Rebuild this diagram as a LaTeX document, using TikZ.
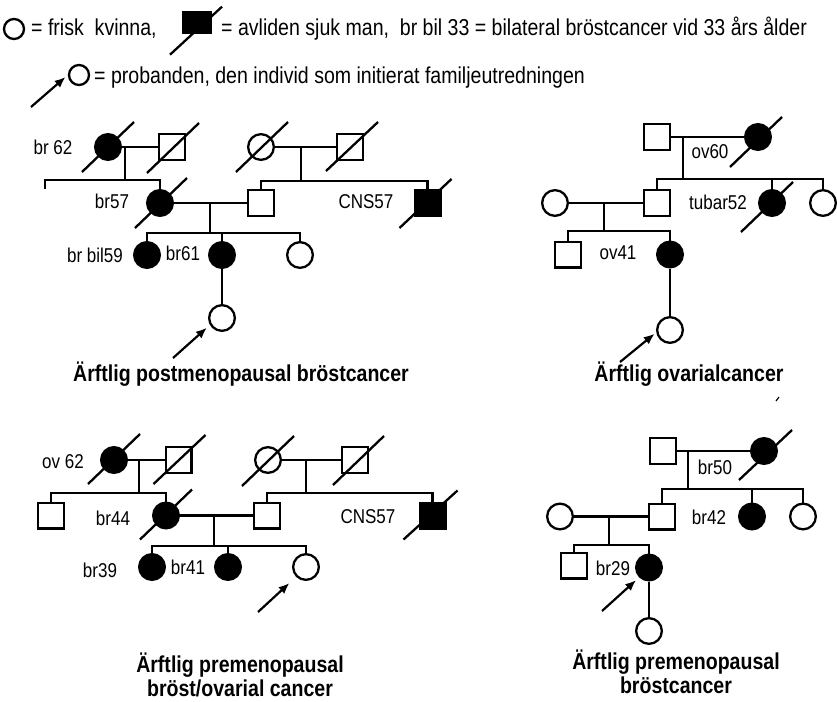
\documentclass[tikz,border=0pt]{standalone}
\usepackage{fontspec}
\setmainfont{Liberation Sans}[FakeStretch=0.85]
\usetikzlibrary{arrows.meta}
\tikzset{
  sym/.style={draw, line width=2.3pt, minimum size=25.7pt, inner sep=0pt},
  female/.style={sym, circle},
  male/.style={sym, rectangle},
  affected/.style={fill=black},
  slash/.style={line width=2.3pt},
  tie/.style={line width=2.3pt},
  arrow/.style={-{Latex[length=11pt,width=9pt]}, line width=2.2pt},
  lbl/.style={font=\fontsize{20}{24}\selectfont, inner sep=0pt},
  legendtext/.style={font=\fontsize{23}{28}\selectfont, inner sep=0pt, anchor=base west},
  ttl/.style={font=\fontsize{23}{23.3}\selectfont\bfseries, align=center, inner sep=0pt, anchor=base}
}
\begin{document}
\begin{tikzpicture}[x=1pt, y=-1pt]
  \useasboundingbox (0,0) rectangle (837,701);

  % Legend
  \node[female, minimum size=20pt] (lf) at (14,29) {};
  \node[legendtext] (lt1) at (31,36) {= frisk\ \ kvinna,};
  \node[male, affected, minimum width=27pt, minimum height=21pt] (lm) at (197,22.7) {};
  \draw[slash] ([shift={(-27,32)}]lm.center) -- ([shift={(25,-16)}]lm.center);
  \node[legendtext] (lt2) at (221,36) {= avliden sjuk man,\ \ br bil 33 = bilateral bröstcancer vid 33 års ålder};
  \node[female, minimum size=20pt] (lp) at (79,75) {};
  \coordinate (la) at (31,107);
  \draw[arrow, shorten >=3pt] (la) -- (lp.west);
  \node[legendtext] (lt3) at (94,83) {= probanden, den individ som initierat familjeutredningen};

  % Ärftlig postmenopausal bröstcancer
  \node[female, affected] (gm1) at (108,147) {};
  \node[male] (gf1) at (172,147) {};
  \node[female] (gm2) at (261,147) {};
  \node[male] (gf2) at (350,147) {};
  \node[female, affected] (m1) at (160,203) {};
  \node[male] (f1) at (261,203) {};
  \node[male, affected] (cns1) at (427.5,203) {};
  \node[female, affected] (c11) at (147,255) {};
  \node[female, affected] (c12) at (222,255) {};
  \node[female] (c13) at (300,255) {};
  \node[female] (p1) at (222,318) {};
  \node[lbl] (l11) at (53,147) {br 62};
  \node[lbl] (l12) at (112,201) {br57};
  \node[lbl] (l13) at (366,202) {CNS57};
  \node[lbl] (l14) at (95,255) {br bil59};
  \node[lbl] (l15) at (183,253) {br61};
  \coordinate (d1) at (125,147);
  \coordinate (sib1) at (125,180);
  \coordinate (stub1) at (45,189);
  \coordinate (d2) at (301,147);
  \coordinate (sib2) at (301,181);
  \coordinate (d3) at (210,203);
  \coordinate (sib3) at (210,233);
  \coordinate (a1) at (173,358);
  \draw[tie] (gm1) -- (gf1);
  \draw[tie] (gm2) -- (gf2);
  \draw[tie] (d1) -- (sib1);
  \draw[tie] (stub1) |- (sib1) -| (m1.north);
  \draw[tie] (d2) -- (sib2);
  \draw[tie] (f1.north) |- (sib2) -| (cns1.north);
  \draw[tie] (m1) -- (f1);
  \draw[tie] (d3) -- (sib3);
  \draw[tie] (c11.north) |- (sib3) -| (c13.north);
  \draw[tie] (c12.north) -- (c12.north |- sib3);
  \draw[tie] (c12) -- (p1);
  \draw[arrow, shorten >=4pt] (a1) -- (p1.210);
  \draw[slash] ([shift={(-26,25)}]gm1.center) -- ([shift={(26,-25)}]gm1.center);
  \draw[slash] ([shift={(-25,26)}]gf1.center) -- ([shift={(27,-24)}]gf1.center);
  \draw[slash] ([shift={(-25,25)}]gm2.center) -- ([shift={(27,-25)}]gm2.center);
  \draw[slash] ([shift={(-24,24)}]gf2.center) -- ([shift={(28,-25)}]gf2.center);
  \draw[slash] ([shift={(-25,25)}]m1.center) -- ([shift={(27,-25)}]m1.center);
  \draw[slash] ([shift={(-28,25)}]cns1.center) -- ([shift={(24,-24)}]cns1.center);
  \node[ttl] (t1) at (241,381) {Ärftlig postmenopausal bröstcancer};

  % Ärftlig ovarialcancer
  \node[male] (gf3) at (657,137) {};
  \node[female, affected] (gm3) at (758,137) {};
  \node[male] (s2) at (657,203) {};
  \node[female, affected] (tub) at (772,203) {};
  \node[female] (c23) at (823,203) {};
  \node[female] (w2) at (555,203) {};
  \node[male] (g21) at (568,254.5) {};
  \node[female, affected] (c24) at (670,254.5) {};
  \node[female] (p2) at (670,330) {};
  \node[lbl] (l21) at (710,152) {ov60};
  \node[lbl] (l22) at (718,202) {tubar52};
  \node[lbl] (l23) at (618,253) {ov41};
  \coordinate (d4) at (683,137);
  \coordinate (sib4) at (683,179);
  \coordinate (d5) at (604,203);
  \coordinate (sib5) at (604,231);
  \coordinate (a2) at (620,362);
  \draw[tie] (gf3) -- (gm3);
  \draw[tie] (d4) -- (sib4);
  \draw[tie] (s2.north) |- (sib4) -| (c23.north);
  \draw[tie] (tub.north) -- (tub.north |- sib4);
  \draw[tie] (w2) -- (s2);
  \draw[tie] (d5) -- (sib5);
  \draw[tie] (g21.north) |- (sib5) -| (c24.north);
  \draw[tie] (c24) -- (p2);
  \draw[arrow, shorten >=2pt] (a2) -- (p2.190);
  \draw[slash] ([shift={(-28,30)}]gm3.center) -- ([shift={(24,-20)}]gm3.center);
  \draw[slash] ([shift={(-31,29)}]tub.center) -- ([shift={(21,-21)}]tub.center);
  \node[ttl] (t2) at (689,381) {Ärftlig ovarialcancer};
  \draw[line width=1.2pt] (776,401) -- (779,397);

  % Ärftlig premenopausal bröst/ovarial cancer
  \node[female, affected] (gm4) at (114,460) {};
  \node[male] (gf4) at (178.5,460) {};
  \node[female] (gm5) at (268,460) {};
  \node[male] (gf5) at (355,460) {};
  \node[male] (s31) at (51,515.5) {};
  \node[female, affected] (m3) at (166,515.5) {};
  \node[male] (f3) at (267,515.5) {};
  \node[male, affected] (cns3) at (432.5,515.5) {};
  \node[female, affected] (c31) at (152,567) {};
  \node[female, affected] (c32) at (228,567) {};
  \node[female] (p3) at (306,567) {};
  \node[lbl] (l31) at (63,462) {ov 62};
  \node[lbl] (l32) at (113,518) {br44};
  \node[lbl] (l33) at (368,517) {CNS57};
  \node[lbl] (l34) at (100,570) {br39};
  \node[lbl] (l35) at (188,567) {br41};
  \coordinate (d6) at (139,460);
  \coordinate (sib6) at (139,493);
  \coordinate (d7) at (306,460);
  \coordinate (sib7) at (306,493);
  \coordinate (d8) at (214,515.5);
  \coordinate (sib8) at (214,546);
  \coordinate (a3) at (258,612);
  \draw[tie] (gm4) -- (gf4);
  \draw[tie] (gm5) -- (gf5);
  \draw[tie] (d6) -- (sib6);
  \draw[tie] (s31.north) |- (sib6) -| (m3.north);
  \draw[tie] (d7) -- (sib7);
  \draw[tie] (f3.north) |- (sib7) -| (cns3.north);
  \draw[tie] (m3) -- (f3);
  \draw[tie] (d8) -- (sib8);
  \draw[tie] (c31.north) |- (sib8) -| (p3.north);
  \draw[tie] (c32.north) -- (c32.north |- sib8);
  \draw[arrow, shorten >=9pt] (a3) -- (p3.225);
  \draw[slash] ([shift={(-26,24)}]gm4.center) -- ([shift={(26,-26)}]gm4.center);
  \draw[slash] ([shift={(-25,24)}]gf4.center) -- ([shift={(27,-25)}]gf4.center);
  \draw[slash] ([shift={(-26,26)}]gm5.center) -- ([shift={(26,-24)}]gm5.center);
  \draw[slash] ([shift={(-22,25)}]gf5.center) -- ([shift={(29,-24)}]gf5.center);
  \draw[slash] ([shift={(-26,24)}]m3.center) -- ([shift={(26,-26)}]m3.center);
  \draw[slash] ([shift={(-29,24)}]cns3.center) -- ([shift={(25,-25)}]cns3.center);
  \node[ttl] (t3) at (240,696) {Ärftlig premenopausal\\bröst/ovarial cancer};

  % Ärftlig premenopausal bröstcancer
  \node[male] (gf6) at (663,451) {};
  \node[female, affected] (gm6) at (764,451) {};
  \node[male] (s4) at (662,516.5) {};
  \node[female, affected] (c42) at (752,516.5) {};
  \node[female] (c43) at (803,516.5) {};
  \node[female] (w4) at (560,516.5) {};
  \node[male] (g41) at (574,565.5) {};
  \node[female, affected] (c45) at (649,567.5) {};
  \node[female] (p4) at (649,631) {};
  \node[lbl] (l41) at (715,467) {br50};
  \node[lbl] (l42) at (709,517) {br42};
  \node[lbl] (l43) at (613,568) {br29};
  \coordinate (d9) at (688,451);
  \coordinate (sib9) at (688,489);
  \coordinate (d10) at (609,516.5);
  \coordinate (sib10) at (609,545);
  \coordinate (a4) at (602,611);
  \draw[tie] (gf6) -- (gm6);
  \draw[tie] (d9) -- (sib9);
  \draw[tie] (s4.north) |- (sib9) -| (c43.north);
  \draw[tie] (c42.north) -- (c42.north |- sib9);
  \draw[tie] (w4) -- (s4);
  \draw[tie] (d10) -- (sib10);
  \draw[tie] (g41.north) |- (sib10) -| (c45.north);
  \draw[tie] (c45) -- (p4);
  \draw[arrow, shorten >=4pt] (a4) -- (c45.225);
  \draw[slash] ([shift={(-25,29)}]gm6.center) -- ([shift={(28,-21)}]gm6.center);
  \node[ttl] (t4) at (676,693) {Ärftlig premenopausal\\bröstcancer};
\end{tikzpicture}
\end{document}
